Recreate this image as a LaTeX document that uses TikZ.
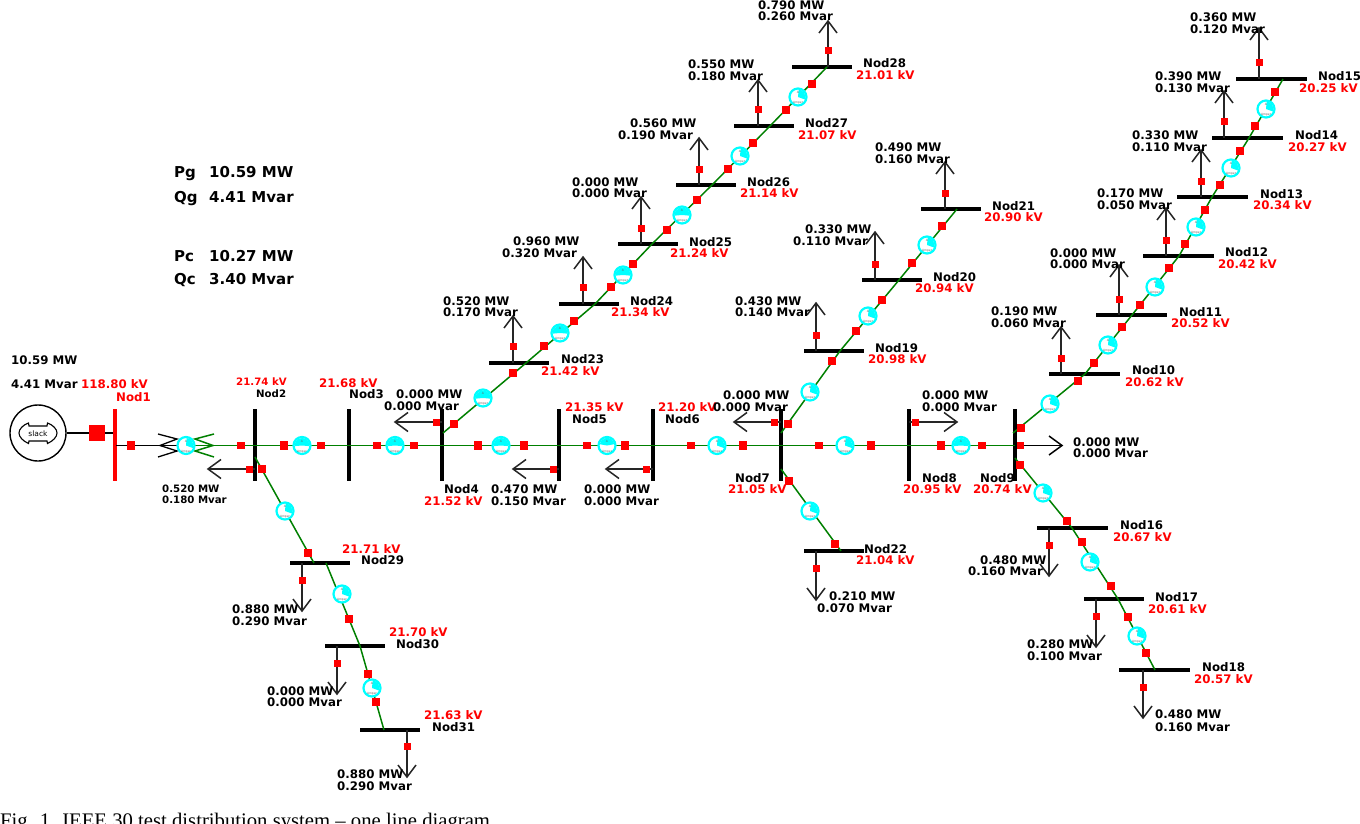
\documentclass[tikz,border=0pt]{standalone}
\usepackage{fontspec}
\setmainfont{DejaVu Sans}
\newfontfamily\capfont{Liberation Serif}
\definecolor{brg}{HTML}{008000}
\definecolor{rd}{HTML}{FF0000}
\definecolor{cy}{HTML}{00FFFF}
\newcounter{nn}
\tikzset{
 busbar/.style={fill=black,draw=none,inner sep=0pt,rectangle},
 brline/.style={draw=brg,line width=1.5pt},
 mainline/.style={draw=brg,line width=1.9pt},
 blkline/.style={draw=black,line width=1.8pt},
 loadline/.style={draw=black!85,line width=1.5pt},
 redsq/.style={fill=rd,draw=none,inner sep=0pt,rectangle},
 meterdisc/.style={circle,fill=white,draw=cy,line width=2.2pt,minimum size=17pt,inner sep=0pt},
 blk/.style={anchor=west,inner sep=0pt,text height=8.6pt,text depth=0pt,font=\fontsize{11.8pt}{12pt}\selectfont\bfseries,text=black},
 redt/.style={blk,text=rd},
 smallt/.style={anchor=west,inner sep=0pt,text height=7.5pt,text depth=0pt,font=\fontsize{10.2pt}{11pt}\selectfont\bfseries},
 bigt/.style={anchor=west,inner sep=0pt,text height=11pt,text depth=0pt,font=\fontsize{15pt}{16pt}\selectfont\bfseries,text=black},
 tiny/.style={inner sep=0pt,font=\fontsize{3pt}{3pt}\selectfont,text=black!60},
}
\newcommand\HB[4]{\node[busbar,minimum width=#4pt,minimum height=3.5pt] (#1) at (#2,#3) {};}
\newcommand\VB[2]{\node[busbar,minimum width=3.5pt,minimum height=72pt] (#1) at (#2,445) {};}
\newcommand\SQ[3]{\stepcounter{nn}\node[redsq,minimum size=#3pt+0.5pt] (s\thenn) at (#1,#2) {};}
\newcommand\K[3]{\stepcounter{nn}\node[blk] (t\thenn) at (#1,#2) {#3};}
\newcommand\R[3]{\stepcounter{nn}\node[redt] (t\thenn) at (#1,#2) {#3};}
% meter: name x y startangle endangle
\newcommand\MT[5]{\node[meterdisc] (#1) at (#2,#3) {};
 \fill[cy] (#1.center) -- ++(#4:7.5pt) arc[start angle=#4,end angle=#5,radius=7.5pt] -- cycle;
 \node[tiny] (#1a) at ([yshift=4.5pt]#1.center) {A};
 \node[tiny] (#1b) at ([yshift=-6pt]#1.center) {Amper};}
\newcommand\Q[3]{\MT{#1}{#2}{#3}{-20}{85}}
\newcommand\BW[3]{\MT{#1}{#2}{#3}{-5}{185}}
% vertical loads: id x ybus ytip ysq  (wings toward the bus)
\newcommand\LV[5]{\coordinate (#1a) at (#2,#3);\coordinate (#1t) at (#2,#4);
 \draw[loadline] (#1a) -- (#1t);
 \pgfmathsetmacro\wng{#4<#3?12:-12}
 \draw[loadline] (#1t) ++(-9,\wng) -- (#1t) -- ++(9,\wng);
 \SQ{#2}{#5}{6.5}}
% horizontal loads: id ybus... xbus xtip y xsq
\newcommand\LH[5]{\coordinate (#1a) at (#2,#4);\coordinate (#1t) at (#3,#4);
 \draw[loadline] (#1a) -- (#1t);
 \pgfmathsetmacro\wng{#3<#2?13:-13}
 \draw[loadline] (#1t) ++(\wng,-9.5) -- (#1t) -- ++(\wng,9.5);
 \SQ{#5}{#4}{6.5}}
\begin{document}
\begin{tikzpicture}[x=1pt,y=-1pt]
\useasboundingbox (0,0) rectangle (1360,824);
\fill[white] (0,0) rectangle (1360,824);
\clip (0,0) rectangle (1360,824);
% ---- junctions
\coordinate (a1) at (116,445.5);\coordinate (a186) at (186,445.5);
\coordinate (a2) at (255,445.5);\coordinate (a3) at (349,445.5);\coordinate (a4) at (442,445.5);
\coordinate (a5) at (559,445.5);\coordinate (a6) at (653,445.5);\coordinate (a7) at (781,445.5);
\coordinate (a8) at (909,445.5);\coordinate (a9) at (1015,445.5);
\coordinate (u4) at (443,433);\coordinate (j23) at (526,363);\coordinate (j24) at (595,304);
\coordinate (j25) at (652,244);\coordinate (j26) at (712,185);\coordinate (j27) at (770,126);\coordinate (j28) at (827,67);
\coordinate (u7) at (781,433);\coordinate (j19) at (840,351);\coordinate (j20) at (899,280);\coordinate (j21) at (957,209);
\coordinate (d7) at (781,469);\coordinate (j22) at (841,551);
\coordinate (u9) at (1013,433);\coordinate (j10) at (1085,374);\coordinate (j11) at (1132,315);\coordinate (j12) at (1179,256);
\coordinate (j13) at (1212,197);\coordinate (j14) at (1249,138);\coordinate (j15) at (1283,79);
\coordinate (d9) at (1015,458);\coordinate (j16) at (1072,528);\coordinate (j17) at (1118,599);\coordinate (j18) at (1155,670);
\coordinate (d2) at (255,457);\coordinate (j29) at (314,563);\coordinate (j29b) at (326,563);\coordinate (j30) at (360,646);\coordinate (j31) at (384,730);
% ---- slack generator
\node[circle,draw=black,line width=1.4pt,minimum size=56pt,inner sep=0pt] (gen) at (38,433) {};
\draw[black,line width=1.1pt] (28.5,423) .. controls (23,425) and (19,429) .. (19,433) .. controls (19,437) and (23,441) .. (28.5,443.5) -- (29,441) -- (47,441) -- (47.5,443.5) .. controls (53,441) and (57,437) .. (57,433) .. controls (57,429) and (53,425) .. (47.5,423) -- (47,426) -- (29,426) -- cycle;
\node[inner sep=0pt,font=\fontsize{7.5pt}{9pt}\selectfont,text=black] (slk) at (38,433.5) {slack};
% ---- buses
\node[fill=rd,draw=none,inner sep=0pt,minimum width=3.5pt,minimum height=72pt] (n1) at (115,445) {};
\VB{n2}{255}\VB{n3}{349}\VB{n4}{442}\VB{n5}{559}\VB{n6}{653}\VB{n7}{781}\VB{n8}{909}\VB{n9}{1015}
\HB{n23}{519}{363}{60}\HB{n24}{589}{304}{60}\HB{n25}{648}{244}{60}\HB{n26}{705.5}{185}{60}\HB{n27}{764}{126}{60}\HB{n28}{822}{67}{60}
\HB{n19}{833.5}{351}{60}\HB{n20}{892}{280}{60}\HB{n21}{950.5}{209}{60}\HB{n22}{834}{551}{60}
\HB{n10}{1084.5}{374}{71}\HB{n11}{1131.5}{315}{71}\HB{n12}{1178}{256}{71}\HB{n13}{1212.5}{197}{71}\HB{n14}{1247.5}{138}{71}\HB{n15}{1271.5}{79}{71}
\HB{n16}{1072.5}{528}{71}\HB{n17}{1113.5}{599}{60}\HB{n18}{1154.5}{670}{71}
\HB{n29}{319.5}{563}{60}\HB{n30}{354.5}{646}{60}\HB{n31}{389.5}{730}{60}
% ---- connectors
\draw[blkline] (gen) -- (n1.west |- gen);
\draw[blkline] (a1) -- (a186);
\draw[mainline] (a186) -- (a2);\draw[mainline] (a2) -- (a3);\draw[mainline] (a3) -- (a4);\draw[mainline] (a4) -- (a5);
\draw[mainline] (a5) -- (a6);\draw[mainline] (a6) -- (a7);\draw[mainline] (a7) -- (a8);\draw[mainline] (a8) -- (a9);
\draw[brline] (u4) -- (j23);\draw[brline] (j23) -- (j24);\draw[brline] (j24) -- (j25);\draw[brline] (j25) -- (j26);\draw[brline] (j26) -- (j27);\draw[brline] (j27) -- (j28);
\draw[brline] (u7) -- (j19);\draw[brline] (j19) -- (j20);\draw[brline] (j20) -- (j21);
\draw[brline] (d7) -- (j22);
\draw[brline] (u9) -- (j10);\draw[brline] (j10) -- (j11);\draw[brline] (j11) -- (j12);\draw[brline] (j12) -- (j13);\draw[brline] (j13) -- (j14);\draw[brline] (j14) -- (j15);
\draw[brline] (d9) -- (j16);\draw[brline] (j16) -- (j17);\draw[brline] (j17) -- (j18);
\draw[brline] (d2) -- (j29);\draw[brline] (j29b) -- (j30);\draw[brline] (j30) -- (j31);
% transformer windings
\draw[black,line width=1.3pt] (158,434) -- (177,439) -- (160,445.5) -- (177,451) -- (158,457);
\draw[brline] (214,434) -- (195,439) -- (213,445.5) -- (195,451) -- (214,457);
% ---- loads
\coordinate (l9a) at (1015,445.5);\coordinate (l9t) at (1062,445.5);
\draw[loadline,draw=black] (l9a) -- (l9t);\draw[loadline,draw=black] (l9t) ++(-13,-9.5) -- (l9t) -- ++(-13,9.5);
\SQ{1020.5}{445.5}{6.5}
\LH{l2}{255}{208}{469}{249}\LH{l4}{442}{395}{422}{436}\LH{l5}{559}{513}{469}{553}\LH{l6}{653}{606}{469}{646}
\LH{l7}{781}{734}{422}{774}\LH{l8}{909}{957}{422}{915}
\LV{l10}{1061}{374}{327}{358}\LV{l11}{1119}{315}{265}{299}\LV{l12}{1166}{256}{208}{240}\LV{l13}{1201}{197}{150}{181}\LV{l14}{1224}{138}{91}{122}\LV{l15}{1259}{79}{28}{63}
\LV{l16}{1049}{528}{576}{545}\LV{l17}{1096}{599}{647}{616}\LV{l18}{1143}{670}{718}{687}
\LV{l19}{816}{351}{303}{335}\LV{l20}{875}{280}{232}{264}\LV{l21}{945}{209}{162}{193}\LV{l22}{816}{551}{600}{568}
\LV{l23}{513}{363}{316}{346}\LV{l24}{583}{304}{257}{287}\LV{l25}{641}{244}{197}{228}\LV{l26}{699}{185}{138}{169}\LV{l27}{758}{126}{80}{110}\LV{l28}{828}{67}{21}{51}
\LV{l29}{302}{563}{611}{580}\LV{l30}{337}{646}{694}{663}\LV{l31}{407}{730}{777}{746}
% ---- red squares
\SQ{97}{433}{16}\SQ{131}{445.5}{8}
\SQ{241}{445.5}{7}\SQ{284}{445.5}{8}\SQ{321}{445.5}{7}\SQ{377}{445.5}{7}\SQ{414}{445.5}{7}\SQ{478}{445.5}{8}\SQ{524}{445.5}{8}
\SQ{587}{445.5}{7}\SQ{625}{445.5}{8}\SQ{691}{445.5}{7}\SQ{743}{445.5}{8}\SQ{819}{445.5}{7}\SQ{871}{445.5}{8}\SQ{941}{445.5}{8}\SQ{982}{445.5}{7}
\SQ{262}{469}{8}\SQ{308}{553}{8}\SQ{349}{619}{8}\SQ{368}{674}{8}\SQ{376}{702}{7}
\SQ{454}{424}{8}\SQ{513}{373}{7}\SQ{544}{346}{8}\SQ{574}{321}{7}\SQ{611}{287}{7}\SQ{633}{264}{8}\SQ{667}{230}{7}\SQ{697}{200}{8}\SQ{728}{169}{8}\SQ{753}{143}{7}\SQ{786}{110}{7}\SQ{812}{84}{8}
\SQ{788}{424}{8}\SQ{832}{361}{7}\SQ{856}{331}{8}\SQ{882}{300}{8}\SQ{912}{263}{8}\SQ{942}{226}{7.5}
\SQ{789}{481}{8}\SQ{835}{544}{7}
\SQ{1021}{428}{8}\SQ{1078}{381}{8}\SQ{1094}{363}{8}\SQ{1122}{327}{8}\SQ{1140}{305}{8}\SQ{1169}{268}{8}\SQ{1185}{244}{7}\SQ{1205}{210}{7}\SQ{1220}{185}{7}\SQ{1240}{151}{7}\SQ{1255}{126}{7}\SQ{1275}{92}{7}
\SQ{1020}{465}{8}\SQ{1067}{521}{8}\SQ{1082}{542}{7}\SQ{1111}{586}{8}\SQ{1128}{617}{8}\SQ{1146}{653}{7}
% ---- meters
\Q{m0}{186}{445.5}\BW{m1}{302}{445.5}\BW{m2}{395}{445.5}\BW{m3}{501}{445.5}\MT{m4}{607}{445.5}{10}{170}
\Q{m5}{717}{445.5}\Q{m6}{845}{445.5}\BW{m7}{961}{445.5}
\Q{m8}{285}{511}\Q{m9}{342}{594}\Q{m10}{372}{688}
\BW{m11}{483}{398}\BW{m12}{560}{333}\BW{m13}{623}{275}\BW{m14}{682}{215}\Q{m15}{740}{156}\Q{m16}{798}{97}
\Q{m17}{810}{392}\Q{m18}{868}{316}\Q{m19}{927}{245}\Q{m20}{810}{511}
\Q{m21}{1050}{404}\Q{m22}{1108}{345}\Q{m23}{1155}{287}\Q{m24}{1196}{227}\Q{m25}{1231}{168}\Q{m26}{1266}{109}
\Q{m27}{1043}{493}\Q{m28}{1090}{562}\Q{m29}{1137}{636}
% ---- summary text
\node[bigt] (pg) at (174,172) {\makebox[35pt][l]{Pg}10.59 MW};
\node[bigt] (qg) at (174,197) {\makebox[35pt][l]{Qg}4.41 Mvar};
\node[bigt] (pc) at (174,256) {\makebox[35pt][l]{Pc}10.27 MW};
\node[bigt] (qc) at (174,279) {\makebox[35pt][l]{Qc}3.40 Mvar};
\K{11}{360}{10.59 MW}\K{11}{384}{4.41 Mvar}\R{81}{384}{118.80 kV}\R{116}{397}{Nod1}
% Nod2 small text
\node[smallt,text=rd] (v2) at (236,382) {21.74 kV};
\node[smallt] (nl2) at (256,394) {Nod2};
\node[smallt] (pw2) at (162,489) {0.520 MW};
\node[smallt] (qv2) at (162,500) {0.180 Mvar};
% node labels
\R{319}{383}{21.68 kV}\K{349}{394}{Nod3}\K{396}{394}{0.000 MW}\K{384}{406}{0.000 Mvar}
\K{444}{489}{Nod4}\R{424}{501}{21.52 kV}\K{491}{489}{0.470 MW}\K{491}{501}{0.150 Mvar}
\R{565}{407}{21.35 kV}\K{572}{419}{Nod5}\K{584}{489}{0.000 MW}\K{584}{501}{0.000 Mvar}
\R{658}{407}{21.20 kV}\K{665}{419}{Nod6}
\K{723}{395}{0.000 MW}\K{713}{407}{0.000 Mvar}\K{735}{478}{Nod7}\R{728}{489}{21.05 kV}
\K{922}{395}{0.000 MW}\K{922}{407}{0.000 Mvar}\K{922}{478}{Nod8}\R{903}{489}{20.95 kV}
\K{980}{478}{Nod9}\R{973}{489}{20.74 kV}\K{1073}{442}{0.000 MW}\K{1073}{453}{0.000 Mvar}
% Nod23..28
\K{443}{301}{0.520 MW}\K{443}{312}{0.170 Mvar}\K{561}{359}{Nod23}\R{541}{371}{21.42 kV}
\K{513}{241}{0.960 MW}\K{502}{253}{0.320 Mvar}\K{630}{301}{Nod24}\R{611}{312}{21.34 kV}
\K{572}{182}{0.000 MW}\K{572}{193}{0.000 Mvar}\K{689}{242}{Nod25}\R{670}{253}{21.24 kV}
\K{630}{123}{0.560 MW}\K{618}{135}{0.190 Mvar}\K{747}{182}{Nod26}\R{740}{193}{21.14 kV}
\K{688}{64}{0.550 MW}\K{688}{76}{0.180 Mvar}\K{805}{123}{Nod27}\R{798}{135}{21.07 kV}
\K{758}{5}{0.790 MW}\K{758}{16}{0.260 Mvar}\K{863}{63}{Nod28}\R{856}{75}{21.01 kV}
% Nod19..22
\K{735}{301}{0.430 MW}\K{735}{312}{0.140 Mvar}\K{875}{348}{Nod19}\R{868}{359}{20.98 kV}
\K{805}{229}{0.330 MW}\K{793}{241}{0.110 Mvar}\K{933}{277}{Nod20}\R{915}{288}{20.94 kV}
\K{875}{147}{0.490 MW}\K{875}{159}{0.160 Mvar}\K{992}{206}{Nod21}\R{984}{217}{20.90 kV}
\K{864}{549}{Nod22}\R{856}{560}{21.04 kV}\K{829}{596}{0.210 MW}\K{817}{608}{0.070 Mvar}
% Nod10..15
\K{991}{311}{0.190 MW}\K{991}{323}{0.060 Mvar}\K{1132}{370}{Nod10}\R{1125}{382}{20.62 kV}
\K{1050}{253}{0.000 MW}\K{1050}{264}{0.000 Mvar}\K{1179}{312}{Nod11}\R{1171}{323}{20.52 kV}
\K{1097}{193}{0.170 MW}\K{1097}{205}{0.050 Mvar}\K{1225}{252}{Nod12}\R{1218}{264}{20.42 kV}
\K{1132}{135}{0.330 MW}\K{1132}{147}{0.110 Mvar}\K{1260}{194}{Nod13}\R{1253}{205}{20.34 kV}
\K{1155}{76}{0.390 MW}\K{1155}{88}{0.130 Mvar}\K{1295}{135}{Nod14}\R{1288}{147}{20.27 kV}
\K{1190}{17}{0.360 MW}\K{1190}{29}{0.120 Mvar}\K{1318}{76}{Nod15}\R{1299}{88}{20.25 kV}
% Nod16..18
\K{980}{560}{0.480 MW}\K{968}{571}{0.160 Mvar}\K{1120}{525}{Nod16}\R{1113}{537}{20.67 kV}
\K{1027}{644}{0.280 MW}\K{1027}{656}{0.100 Mvar}\K{1155}{597}{Nod17}\R{1148}{609}{20.61 kV}
\K{1155}{714}{0.480 MW}\K{1155}{727}{0.160 Mvar}\K{1202}{667}{Nod18}\R{1194}{679}{20.57 kV}
% Nod29..31
\K{232}{609}{0.880 MW}\K{232}{621}{0.290 Mvar}\K{361}{560}{Nod29}\R{342}{549}{21.71 kV}
\K{267}{691}{0.000 MW}\K{267}{702}{0.000 Mvar}\K{396}{644}{Nod30}\R{389}{632}{21.70 kV}
\K{337}{774}{0.880 MW}\K{337}{786}{0.290 Mvar}\K{432}{727}{Nod31}\R{424}{715}{21.63 kV}
% caption
\node[anchor=base west,inner sep=0pt,font=\fontsize{20.7pt}{22pt}\selectfont\capfont,text=black] (cap) at (0,827) {Fig. 1. IEEE 30 test distribution system – one line diagram};
\end{tikzpicture}
\end{document}
